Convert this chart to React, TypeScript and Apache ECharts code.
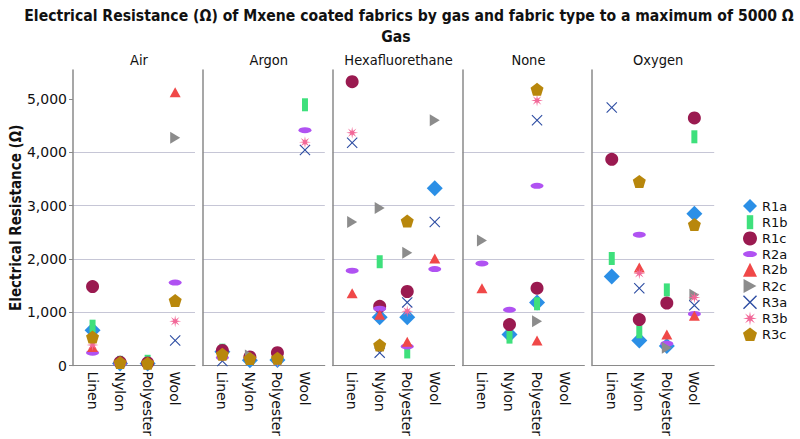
import React, { useEffect, useRef } from "react";
import * as echarts from "echarts";

const gases = ["Air", "Argon", "Hexafluorethane", "None", "Oxygen"];
const fabrics = ["Linen", "Nylon", "Polyester", "Wool"];
const yTicks = [0, 1000, 2000, 3000, 4000, 5000];
const seriesNames = ["R1a", "R1b", "R1c", "R2a", "R2b", "R2c", "R3a", "R3b", "R3c"];

// rows: gases (Air, Argon, Hexafluorethane, None, Oxygen); cols: Linen, Nylon, Polyester, Wool
const R1a = [[664, 40, 40, null], [260, 99, 106, null], [null, 905, 905, 3322], [null, 582, 1184, null], [1667, 470, 366, 2844]];
const R1b = [[738, 60, 80, null], [288, 140, null, 4888], [null, 1946, 255, null], [null, 533, 1158, null], [2007, 632, 1418, 4288]];
const R1c = [[1481, 60, 50, null], [284, 162, 242, null], [5321, 1110, 1388, null], [null, 768, 1450, null], [3866, 861, 1171, 4641]];
const R2a = [[242, 30, null, 1556], [150, null, null, 4411], [1779, 1065, 359, 1809], [1914, 1046, 3370, null], [null, 2454, 409, 967]];
const R2b = [[350, null, null, 5124], [null, null, null, null], [1357, 954, 446, 2007], [1450, null, 470, null], [null, 1840, 582, 935]];
const R2c = [[null, null, null, 4270], [null, 190, null, null], [2690, 2955, 2113, 4597], [2342, null, 831, null], [null, null, 335, 1325]];
const R3a = [[null, null, null, 470], [87, null, null, 4039], [4177, 242, 1184, 2690], [null, null, 4597, null], [4838, 1450, null, 1128]];
const R3b = [[385, null, null, 831], [180, null, 69, 4188], [4362, null, 1017, null], [null, null, 4968, null], [null, 1729, null, 1277]];
const R3c = [[533, 56, 45, 1221], [210, 130, 136, null], [null, 385, 2708, null], [null, null, 5180, null], [null, 3452, null, 2645]];

const seriesValues = [R1a, R1b, R1c, R2a, R2b, R2c, R3a, R3b, R3c];

function starPath(): string {
  const pts: string[] = [];
  for (let i = 0; i < 16; i++) {
    const a = (Math.PI * 2 * i) / 16 - Math.PI / 2;
    const r = i % 2 === 0 ? 50 : 16;
    pts.push(`${(50 + r * Math.cos(a)).toFixed(2)},${(50 + r * Math.sin(a)).toFixed(2)}`);
  }
  return "path://M" + pts.join("L") + "Z";
}
function pentPath(): string {
  const pts: string[] = [];
  for (let i = 0; i < 5; i++) {
    const a = (Math.PI * 2 * i) / 5 - Math.PI / 2;
    pts.push(`${(50 + 50 * Math.cos(a)).toFixed(2)},${(50 + 50 * Math.sin(a)).toFixed(2)}`);
  }
  return "path://M" + pts.join("L") + "Z";
}

const styles = [
  { symbol: "diamond", size: 16, color: "#2b8fe6" },
  { symbol: "path://M0,0L6,0L6,13L0,13Z", size: [6, 13], color: "#3ee07c" },
  { symbol: "circle", size: 13, color: "#9a1a50" },
  { symbol: "path://M0,3A7,3,0,1,1,14,3A7,3,0,1,1,0,3Z", size: [13, 6], color: "#b052f2" },
  { symbol: "triangle", size: [11, 10], color: "#f04848" },
  { symbol: "path://M0,0L11,6L0,12Z", size: [10, 12], color: "#8c8c8c" },
  { symbol: "path://M0,7L7,0L50,43L93,0L100,7L57,50L100,93L93,100L50,57L7,100L0,93L43,50Z", size: 11, color: "#2c4ca2" },
  { symbol: starPath(), size: 12, color: "#f26898" },
  { symbol: pentPath(), size: 13, color: "#b8870c" },
];

const PANEL_LEFT = 73;
const PANEL_STEP = 129.8;
const PANEL_W = 122;
const TOP = 70;
const BOTTOM_Y = 368;
const FONT = "DejaVu Sans";
const NARROW = "'DejaVu Sans Condensed', 'DejaVu Sans', sans-serif";

export default function App() {
  const ref = useRef<HTMLDivElement>(null);
  useEffect(() => {
    if (!ref.current) return;
    const chart = echarts.init(ref.current, undefined, { renderer: "svg" });
    const grids = gases.map((_, i) => ({
      left: PANEL_LEFT + i * PANEL_STEP,
      width: PANEL_W,
      top: TOP,
      height: BOTTOM_Y - TOP,
    }));
    const xAxes = gases.map((_, i) => ({
      type: "value",
      gridIndex: i,
      min: -0.71,
      max: 3.72,
      splitLine: { show: false },
      axisTick: { show: false },
      axisLine: { show: true, onZero: false, lineStyle: { color: "#8a8a8a", width: 1 } },
      axisLabel: {
        customValues: [0, 1, 2, 3],
        formatter: (v: number) => fabrics[Math.round(v)] ?? "",
        rotate: -90,
        margin: 6,
        fontSize: 14,
        fontFamily: FONT,
        color: "#111",
      },
    }));
    const yAxes = gases.map((_, i) => ({
      type: "value",
      gridIndex: i,
      min: 0,
      max: 5540,
      interval: 1000,
      name: i === 0 ? "Electrical Resistance (Ω)" : "",
      nameLocation: "middle",
      nameGap: 45,
      nameTextStyle: { fontSize: 15, fontWeight: "bold", fontFamily: NARROW, color: "#111" },
      axisLine: { show: true, onZero: false, lineStyle: { color: "#8a8a8a", width: 1.5 } },
      axisTick: { show: i === 0, length: 4, customValues: yTicks, lineStyle: { color: "#8a8a8a" } },
      splitLine: { show: true, showMaxLine: false, showMinLine: false, lineStyle: { color: "#c6c6d6", width: 1.2 } },
      axisLabel: {
        show: i === 0,
        customValues: yTicks,
        formatter: (v: number) => v.toLocaleString("en-US"),
        margin: 6,
        fontSize: 14,
        fontFamily: FONT,
        color: "#111",
      },
    }));
    const series: any[] = [];
    seriesNames.forEach((name, s) => {
      gases.forEach((_, g) => {
        const data = seriesValues[s][g]
          .map((v, fi) => (v == null ? null : [fi, v]))
          .filter((d) => d !== null);
        series.push({
          type: "scatter",
          name,
          xAxisIndex: g,
          yAxisIndex: g,
          symbol: styles[s].symbol,
          symbolSize: styles[s].size,
          itemStyle: { color: styles[s].color, opacity: 1 },
          emphasis: { disabled: true },
          data,
          z: 2 + s,
        });
      });
    });
    const panelTitles = gases.map((g, i) => ({
      text: g,
      left: PANEL_LEFT + i * PANEL_STEP + PANEL_W / 2,
      top: 47,
      textAlign: "center",
      textStyle: { fontSize: 14.5, fontWeight: "normal", fontFamily: NARROW, color: "#111" },
    }));
    chart.setOption({
      animation: false,
      backgroundColor: "#fff",
      title: [
        {
          text: "Electrical Resistance (Ω) of Mxene coated fabrics by gas and fabric type to a maximum of 5000 Ω",
          left: 404,
          top: 3,
          textAlign: "center",
          textStyle: { fontSize: 15.6, fontWeight: "bold", fontFamily: NARROW, color: "#111" },
        },
        {
          text: "Gas",
          left: 391,
          top: 24,
          textAlign: "center",
          textStyle: { fontSize: 15.6, fontWeight: "bold", fontFamily: NARROW, color: "#111" },
        },
        ...panelTitles,
      ],
      legend: {
        orient: "vertical",
        left: 743,
        top: 199,
        padding: 0,
        itemWidth: 14,
        itemHeight: 14,
        itemGap: 2.2,
        textStyle: { fontSize: 13, fontFamily: FONT, color: "#111" },
        data: seriesNames,
        selectedMode: false,
      },
      grid: grids,
      xAxis: xAxes,
      yAxis: yAxes,
      series,
    });
    return () => chart.dispose();
  }, []);
  return <div ref={ref} style={{ width: 800, height: 439, position: "absolute", left: 0, top: 0 }} />;
}
